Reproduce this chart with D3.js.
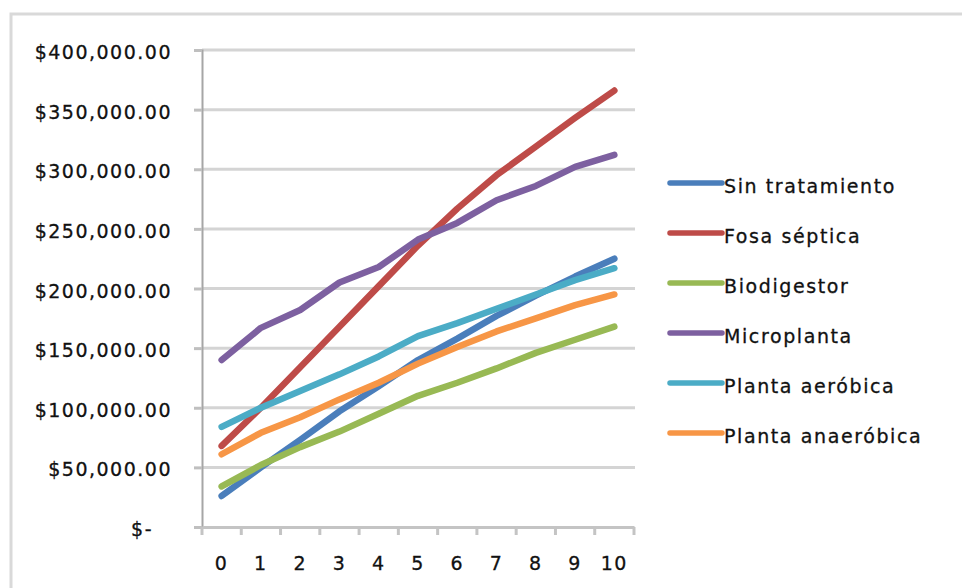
<!DOCTYPE html>
<html><head><meta charset="utf-8">
<script src="https://cdn.jsdelivr.net/npm/d3@7"></script>
<style>
html,body{margin:0;padding:0;background:#fff;}
svg text{font-family:"DejaVu Sans",sans-serif;fill:#111;}
</style></head>
<body>
<svg id="chart" width="962" height="588"></svg>
<script>
const years = ["0","1","2","3","4","5","6","7","8","9","10"];
const seriesNames = ["Sin tratamiento","Fosa séptica","Biodigestor","Microplanta","Planta aeróbica","Planta anaeróbica"];
const sinTratamiento = [26000,50000,73000,97000,118000,140000,158000,177000,194000,210000,225000];
const fosaSeptica    = [68000,100000,134000,168000,202000,236000,267000,295000,319000,343000,366000];
const biodigestor    = [34000,52000,67000,80000,95000,110000,121000,133000,146000,157000,168000];
const microplanta    = [140000,167000,182000,205000,218000,241000,255000,274000,286000,302000,312000];
const plantaAerobica = [84000,100000,114000,128000,143000,160000,171000,183000,195000,207000,217000];
const plantaAnaerobica = [61000,79000,92000,107000,121000,137000,151000,164000,175000,186000,195000];
const yTicks = [0,50000,100000,150000,200000,250000,300000,350000,400000];
const colors = ["#4a7ebb","#be4b48","#98b954","#7d60a0","#4bacc6","#f79646"];

const seriesValues = [sinTratamiento,fosaSeptica,biodigestor,microplanta,plantaAerobica,plantaAnaerobica];
const series = seriesNames.map((n,i)=>({name:n,values:seriesValues[i],color:colors[i]}));

const svg = d3.select("#chart");
svg.append("rect").attr("x",11).attr("y",14).attr("width",1000).attr("height",1000)
  .attr("fill","none").attr("stroke","#d9d9d9").attr("stroke-width",3);

const pLeft=202, pRight=634, pTop=50, pBottom=527;
const x = d3.scaleBand().domain(years).range([pLeft,pRight]);
const y = d3.scaleLinear().domain([0,400000]).range([pBottom,pTop]);

svg.append("g").selectAll("line").data(yTicks.filter(d=>d>0)).join("line")
  .attr("x1",pLeft).attr("x2",pRight+1).attr("y1",d=>y(d)).attr("y2",d=>y(d))
  .attr("stroke","#d4d4d4").attr("stroke-width",3);

const fmt = d3.format(",.2f");
const yAxis = svg.append("g").attr("transform",`translate(${pLeft},0)`)
  .call(d3.axisLeft(y).tickValues(yTicks).tickSize(8).tickPadding(22)
    .tickFormat(d=> d===0 ? "$-" : "$"+fmt(d)));
yAxis.select(".domain").attr("stroke","#a6a6a6").attr("stroke-width",2);
yAxis.selectAll(".tick line").attr("stroke","#bfbfbf").attr("stroke-width",3);
yAxis.selectAll(".tick text").attr("font-size",19).attr("letter-spacing","1.5px")
  .attr("font-family","DejaVu Sans").attr("fill","#111").attr("dy","0.45em")
  .attr("stroke","#111").attr("stroke-width",0.3)
  .attr("dx",d=>d===0?-19:0);

const xAxis = svg.append("g").attr("transform",`translate(0,${pBottom})`)
  .call(d3.axisBottom(x).tickSize(0).tickPadding(43));
xAxis.select(".domain").attr("stroke","#c4c4c4").attr("stroke-width",3);
xAxis.selectAll(".tick text").attr("font-size",19).attr("letter-spacing","1.5px")
  .attr("font-family","DejaVu Sans").attr("fill","#111").attr("dy","0")
  .attr("stroke","#111").attr("stroke-width",0.3);
const bounds = years.map(d=>x(d)).concat([x(years[years.length-1])+x.bandwidth()]);
svg.append("g").selectAll("line").data(bounds).join("line")
  .attr("x1",d=>d).attr("x2",d=>d).attr("y1",pBottom).attr("y2",pBottom+8)
  .attr("stroke","#c4c4c4").attr("stroke-width",3);

const line = d3.line().x((d,i)=>x(years[i])+x.bandwidth()/2).y(d=>y(d));
svg.append("g").selectAll("path").data(series).join("path")
  .attr("d",d=>line(d.values)).attr("fill","none").attr("stroke",d=>d.color)
  .attr("stroke-width",6.5).attr("stroke-linecap","round").attr("stroke-linejoin","round");

const legY = d3.scalePoint().domain(seriesNames).range([183,433]);
const leg = svg.append("g").selectAll("g").data(series).join("g")
  .attr("transform",d=>`translate(0,${legY(d.name)})`);
leg.append("line").attr("x1",670).attr("x2",722).attr("y1",0).attr("y2",0)
  .attr("stroke",d=>d.color).attr("stroke-width",5.5).attr("stroke-linecap","round");
leg.append("text").attr("x",724).attr("y",10).attr("font-size",19)
  .attr("letter-spacing","1.6px").attr("stroke","#111").attr("stroke-width",0.3)
  .text(d=>d.name);
</script>
</body></html>
